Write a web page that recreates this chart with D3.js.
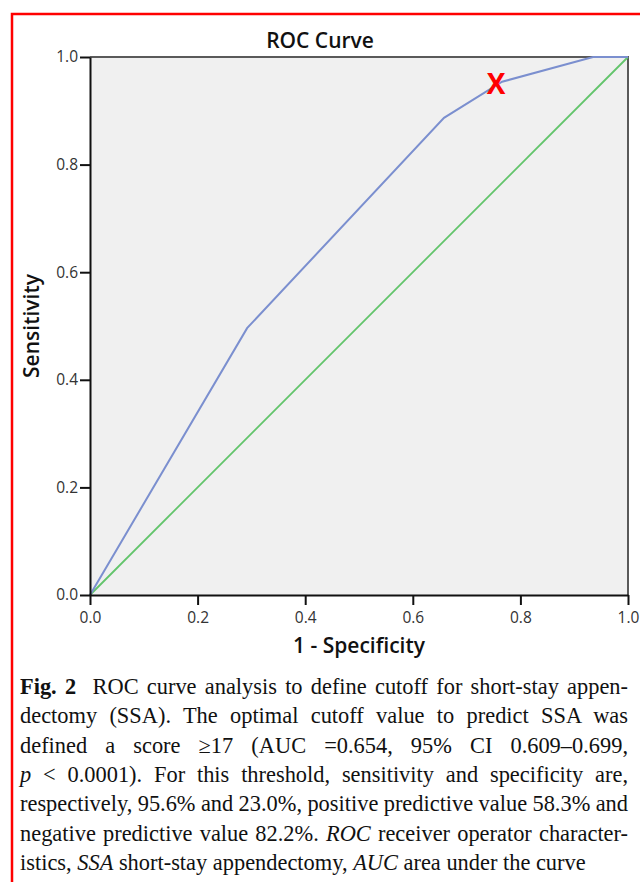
<!DOCTYPE html>
<html>
<head>
<meta charset="utf-8">
<script src="https://cdn.jsdelivr.net/npm/d3@7"></script>
<style>
  html, body { margin: 0; padding: 0; background: #fff; }
  svg { display: block; }
</style>
</head>
<body>
<svg class="canvas" width="640" height="882"></svg>
<script>
'use strict';

// ROC curve
const rocFpr = [0, 0.292, 0.658, 0.766, 0.935, 1];
const rocTpr = [0, 0.496, 0.887, 0.954, 1, 1];
const refLine = [0, 1];
const cutoffPoint = [0.755, 0.95];
const tickValues = [0, 0.2, 0.4, 0.6, 0.8, 1.0];

const titleText = 'ROC Curve',
  xLabel = '1 - Specificity',
  yLabel = 'Sensitivity';

// caption lines, each a list of [text, style]
const captionLines = [
  [['Fig. 2', 'b'], ['  ROC curve analysis to define cutoff for short-stay appen-', '']],
  [['dectomy (SSA). The optimal cutoff value to predict SSA was', '']],
  [['defined a score \u226517 (AUC =0.654, 95% CI 0.609\u20130.699,', '']],
  [['p', 'i'], [' < 0.0001). For this threshold, sensitivity and specificity are,', '']],
  [['respectively, 95.6% and 23.0%, positive predictive value 58.3% and', '']],
  [['negative predictive value 82.2%. ', ''], ['ROC', 'i'], [' receiver operator character-', '']],
  [['istics, ', ''], ['SSA', 'i'], [' short-stay appendectomy, ', ''], ['AUC', 'i'], [' area under the curve', '']]
];

const canvas = d3.select('.canvas');

canvas.append('rect').attr('width', 640).attr('height', 882).attr('fill', '#fff');

// red frame, runs off the right and bottom
canvas
  .append('rect')
  .attr('x', 12)
  .attr('y', 14)
  .attr('width', 700)
  .attr('height', 960)
  .attr('fill', 'none')
  .attr('stroke', '#ff0000')
  .attr('stroke-width', 2.5);

const x = d3.scaleLinear().domain([0, 1]).range([90, 628]),
  y = d3.scaleLinear().domain([0, 1]).range([595, 57]);

canvas
  .append('rect')
  .attr('x', x(0))
  .attr('y', y(1))
  .attr('width', x(1) - x(0))
  .attr('height', y(0) - y(1))
  .attr('fill', '#f0f0f0');

// top + right frame of plot
canvas
  .append('path')
  .attr('d', `M${x(0)},${y(1)}H${x(1)}V${y(0)}`)
  .attr('fill', 'none')
  .attr('stroke', '#5a5a5a')
  .attr('stroke-width', 2);

const line = d3.line().x(d => x(d[0])).y(d => y(d[1]));

canvas
  .append('path')
  .datum(refLine.map(v => [v, v]))
  .attr('d', line)
  .attr('fill', 'none')
  .attr('stroke', '#62c46b')
  .attr('stroke-width', 1.8);

canvas
  .append('path')
  .datum(rocFpr.map((v, i) => [v, rocTpr[i]]))
  .attr('d', line)
  .attr('fill', 'none')
  .attr('stroke', '#7b8fcf')
  .attr('stroke-width', 2);

const fmt = d3.format('.1f');

const xAxis = canvas
  .append('g')
  .attr('transform', `translate(0,${y(0)})`)
  .call(d3.axisBottom(x).tickValues(tickValues).tickFormat(fmt).tickSize(10).tickSizeOuter(0));

const yAxis = canvas
  .append('g')
  .attr('transform', `translate(${x(0)},0)`)
  .call(d3.axisLeft(y).tickValues(tickValues).tickFormat(fmt).tickSize(10).tickSizeOuter(0));

[xAxis, yAxis].forEach(ax => {
  ax.select('.domain').attr('stroke', '#111').attr('stroke-width', 2);
  ax.selectAll('.tick line').attr('stroke', '#111').attr('stroke-width', 2);
  ax.selectAll('.tick text')
    .attr('fill', '#333')
    .style('font-family', '"Open Sans", sans-serif')
    .style('font-size', '15.5px');
});
xAxis.selectAll('.tick text').attr('dy', '0.95em');
yAxis.selectAll('.tick text').attr('x', -12);

// red X at the optimal cutoff
canvas
  .append('text')
  .attr('x', x(cutoffPoint[0]))
  .attr('y', y(cutoffPoint[1]))
  .attr('dy', '0.36em')
  .attr('text-anchor', 'middle')
  .attr('fill', '#ff0000')
  .style('font-family', '"Open Sans", sans-serif')
  .style('font-weight', 700)
  .style('font-size', '28px')
  .text('X');

const labelFont = sel =>
  sel
    .style('font-family', '"Open Sans", sans-serif')
    .style('font-weight', 600)
    .attr('fill', '#111')
    .attr('text-anchor', 'middle');

canvas.append('text').attr('x', 320).attr('y', 48).style('font-size', '21px').call(labelFont).text(titleText);
canvas.append('text').attr('x', (x(0) + x(1)) / 2).attr('y', 653).style('font-size', '21px').call(labelFont).text(xLabel);
canvas
  .append('text')
  .attr('transform', `translate(39,${(y(0) + y(1)) / 2}) rotate(-90)`)
  .style('font-size', '21px')
  .call(labelFont)
  .text(yLabel);

// caption, justified line by line
const capLeft = 20,
  capRight = 628,
  capTop = 694,
  capStep = 29.3;

captionLines.forEach((parts, i) => {
  const t = canvas
    .append('text')
    .attr('x', capLeft)
    .attr('y', capTop + i * capStep)
    .attr('fill', '#111')
    .style('font-family', '"Liberation Serif", "Times New Roman", serif')
    .style('font-size', '22.4px')
    .style('white-space', 'pre');
  parts.forEach(([str, st]) => {
    t.append('tspan')
      .style('font-weight', st === 'b' ? 700 : 400)
      .style('font-style', st === 'i' ? 'italic' : 'normal')
      .text(str);
  });
  if (i < captionLines.length - 1) {
    const full = parts.map(p => p[0]).join(''),
      gaps = full.split(' ').length - 1,
      natural = t.node().getComputedTextLength();
    t.style('word-spacing', `${(capRight - capLeft - natural) / gaps}px`);
  }
});
</script>
</body>
</html>
